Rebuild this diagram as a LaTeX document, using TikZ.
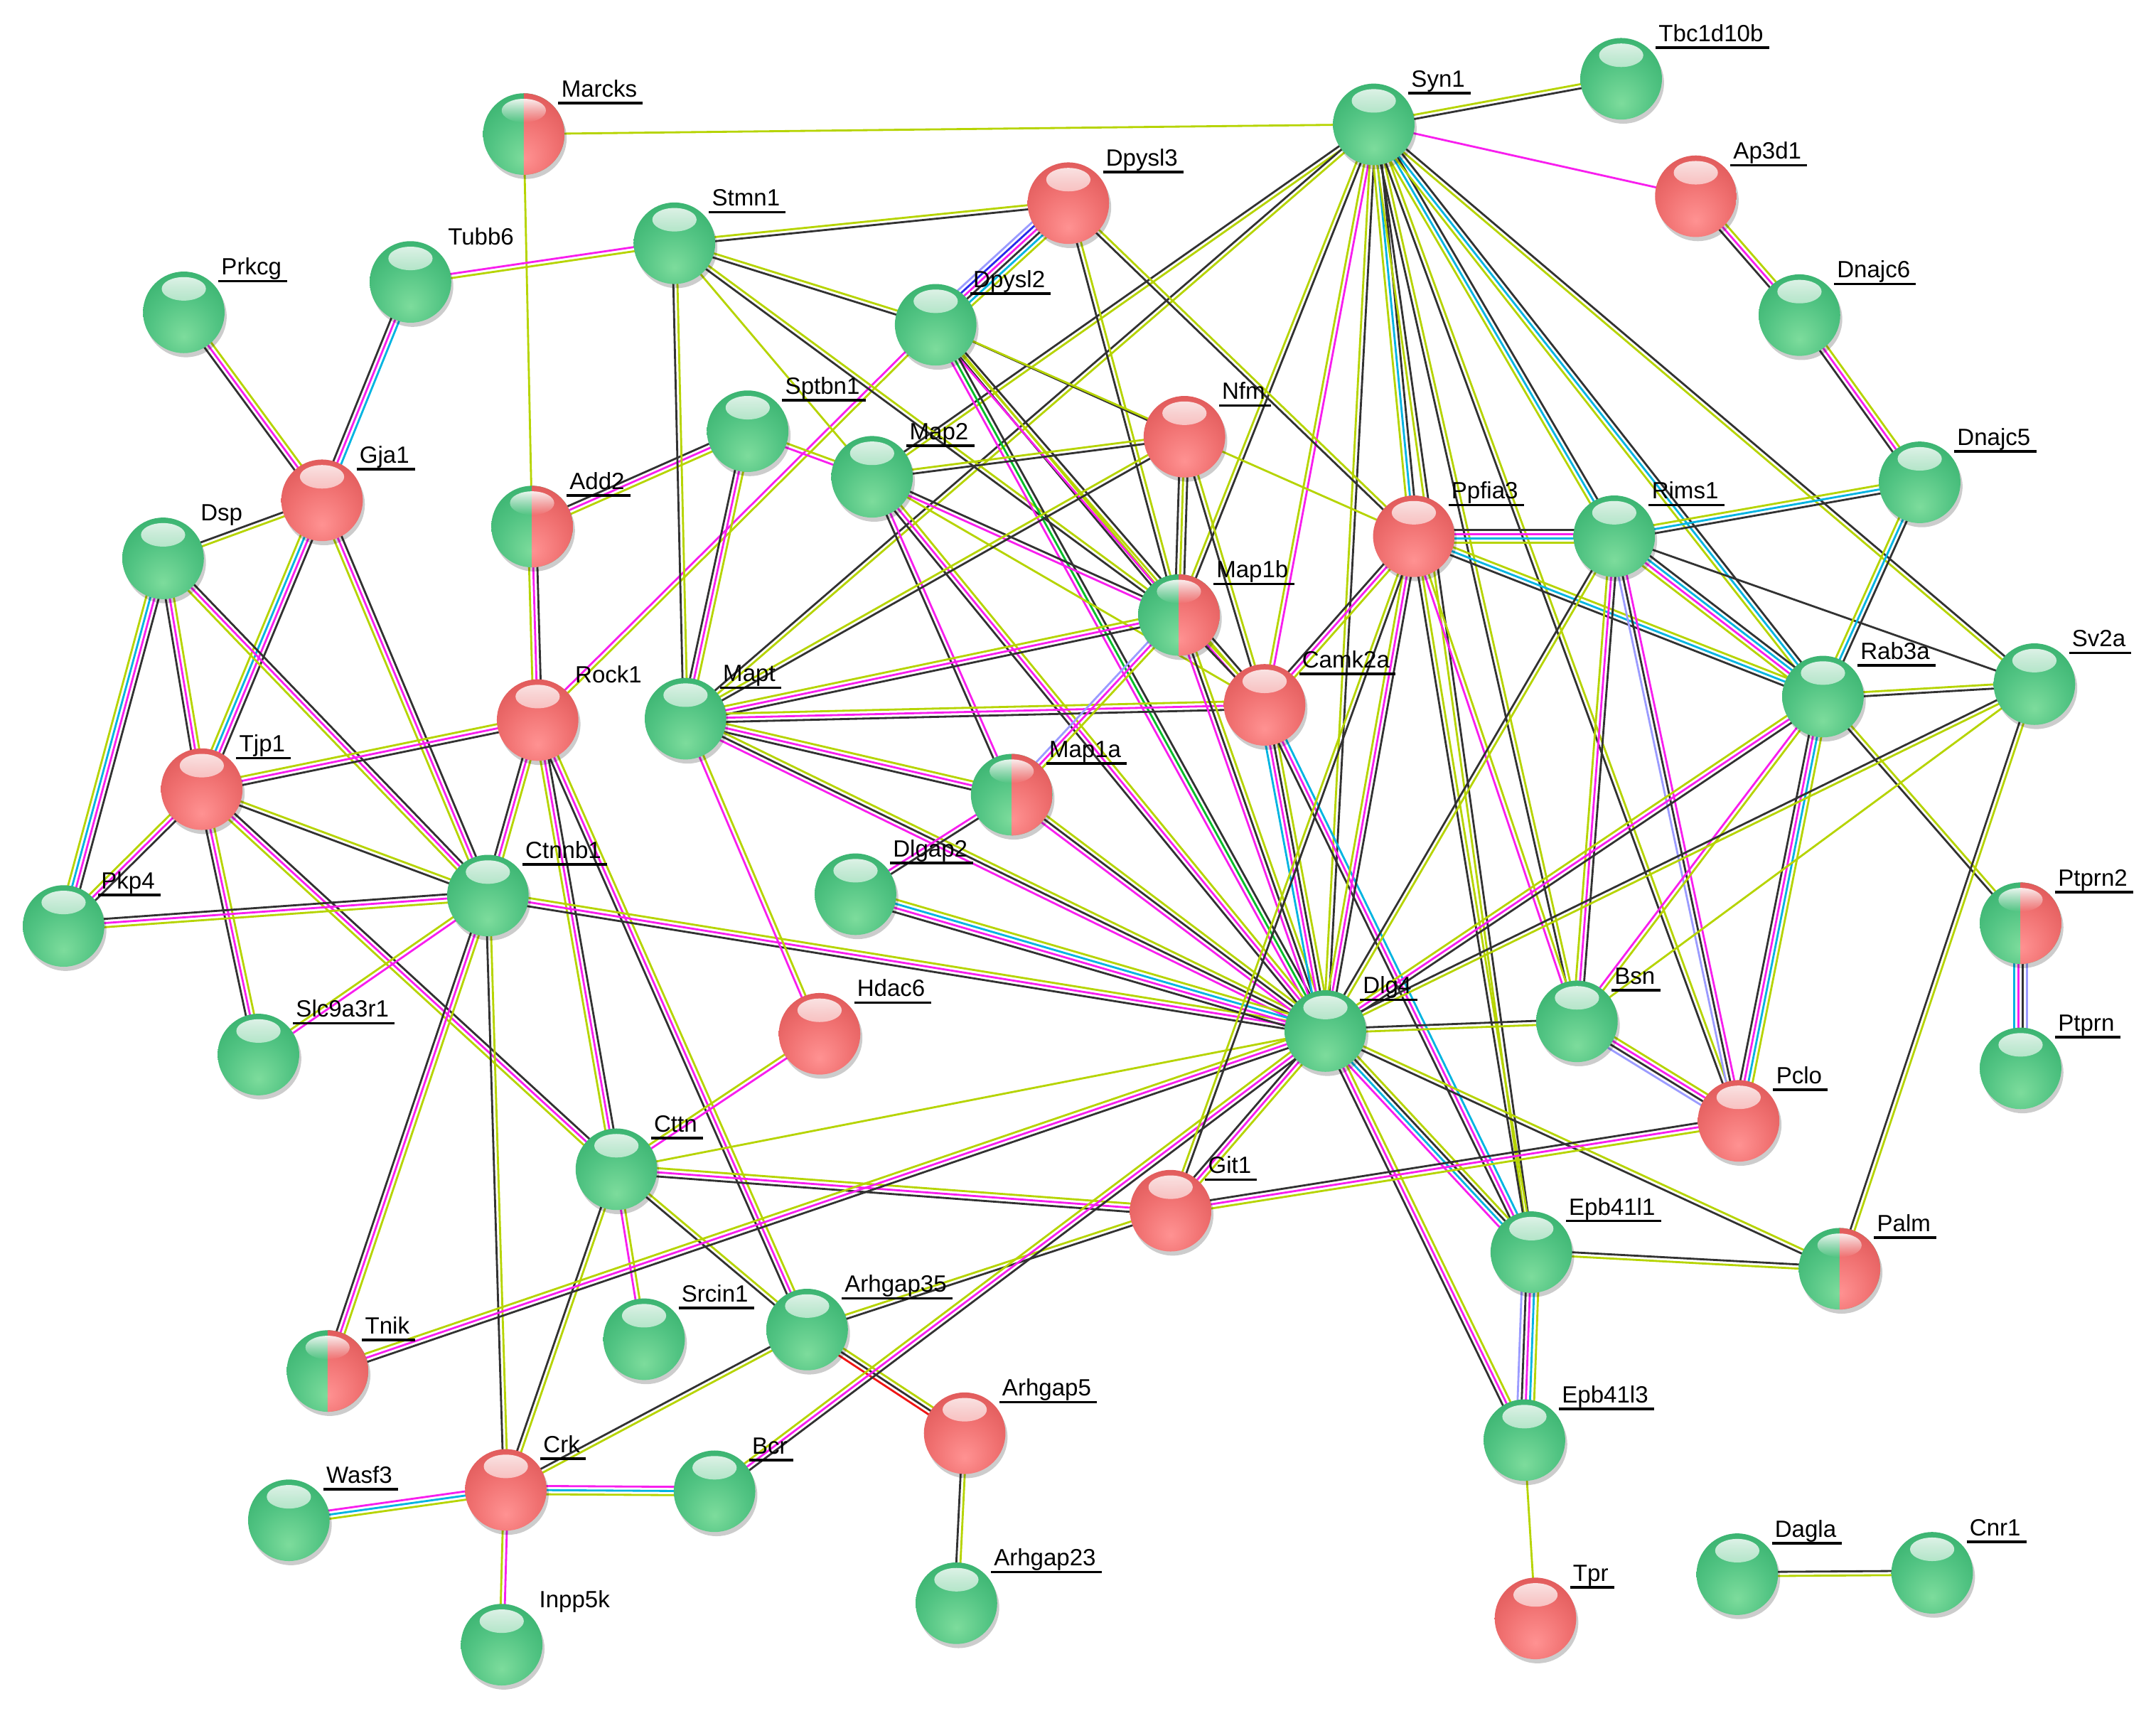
\documentclass[tikz,border=0pt]{standalone}
\usepackage{fontspec}
\setmainfont{Liberation Sans}
\usetikzlibrary{calc,backgrounds,fadings}
\definecolor{cY}{RGB}{182,212,0}
\definecolor{cK}{RGB}{50,50,50}
\definecolor{cM}{RGB}{248,30,238}
\definecolor{cC}{RGB}{0,180,225}
\definecolor{cL}{RGB}{155,155,255}
\definecolor{cB}{RGB}{40,40,235}
\definecolor{cG}{RGB}{0,190,40}
\definecolor{cR}{RGB}{240,20,20}
\definecolor{gA}{HTML}{7DDC9C}
\definecolor{gB}{HTML}{52C483}
\definecolor{gC}{HTML}{3AB370}
\definecolor{gD}{HTML}{2A9F5F}
\definecolor{gE}{HTML}{1C8A4C}
\definecolor{gF}{HTML}{127A3E}
\definecolor{rA}{HTML}{FF9292}
\definecolor{rB}{HTML}{F07070}
\definecolor{rC}{HTML}{E05A5A}
\definecolor{rD}{HTML}{CC4646}
\definecolor{rE}{HTML}{B63535}
\definecolor{rF}{HTML}{A02828}
\pgfdeclareradialshading{gball}{\pgfpoint{0bp}{-15bp}}{color(0bp)=(gA); color(20bp)=(gB); color(35bp)=(gC); color(45bp)=(gD); color(55bp)=(gE); color(65bp)=(gF); color(80bp)=(gF)}
\pgfdeclareradialshading{rball}{\pgfpoint{0bp}{-15bp}}{color(0bp)=(rA); color(20bp)=(rB); color(35bp)=(rC); color(45bp)=(rD); color(55bp)=(rE); color(65bp)=(rF); color(80bp)=(rF)}
\tikzfading[name=hlfade, top color=transparent!12, bottom color=transparent!100]
\newcommand\hlite{\fill[white, path fading=hlfade] ($(path picture bounding box.center)+(0pt,17pt)$) ellipse (16pt and 8.5pt);}
\tikzset{
  basenode/.style={circle, minimum size=59pt, inner sep=0pt, shade},
  gn/.style={basenode, shading=gball, path picture={\hlite}},
  rn/.style={basenode, shading=rball, path picture={\hlite}},
  hn/.style={basenode, shading=gball, path picture={%
     \begin{scope}\clip (path picture bounding box.north) rectangle (path picture bounding box.south east);
     \shade[shading=rball] (path picture bounding box.south west) rectangle (path picture bounding box.north east);\end{scope}\hlite}},
  shadowdisc/.style={fill=black, opacity=0.2},
  lab/.style={anchor=base west, inner sep=0pt, font=\fontsize{17}{20}\selectfont},
  ul/.style={draw=black, line width=1.8pt},
  eY/.style={draw=cY, line width=1.45pt},
  eK/.style={draw=cK, line width=1.45pt},
  eM/.style={draw=cM, line width=1.45pt},
  eC/.style={draw=cC, line width=1.45pt},
  eL/.style={draw=cL, line width=1.45pt},
  eB/.style={draw=cB, line width=1.45pt},
  eG/.style={draw=cG, line width=1.45pt},
  eR/.style={draw=cR, line width=1.45pt},
}
\newcommand\N[5]{%
  \fill[shadowdisc] ($(#3,#4)+(1.5pt,-3pt)$) circle (29.5pt);
  \node[#1] (#2) at (#3,#4) {};
  \node[lab] (t#2) at ($(#2.center)+(27pt,27pt)$) {#2};
  \ifnum#5=1 \draw[ul] ($(t#2.base west)+(-2pt,-4.5pt)$) -- ($(t#2.base east)+(4pt,-4.5pt)$);\fi
}
\newcommand\E[3]{%
  \foreach \cc [count=\nn] in {#3}{\global\let\ecount\nn}%
  \foreach \cc [count=\ii] in {#3}{%
    \pgfmathsetmacro\eoff{(\ii-(\ecount+1)/2)*3.0}%
    \draw[\cc] ($(#1.center)!\eoff pt!90:(#2.center)$) -- ($(#2.center)!\eoff pt!-90:(#1.center)$);%
  }%
}
\begin{document}
\begin{tikzpicture}[x=1pt,y=-1pt]
\useasboundingbox (0,0) rectangle (1560,1241.6);
\N{gn}{Syn1}{994}{90}{1}
\N{gn}{Tbc1d10b}{1173}{57}{1}
\N{rn}{Dpysl3}{773}{147}{1}
\N{rn}{Ap3d1}{1227}{142}{1}
\N{hn}{Marcks}{379}{97}{1}
\N{gn}{Stmn1}{488}{176}{1}
\N{gn}{Tubb6}{297}{204}{0}
\N{gn}{Prkcg}{133}{226}{1}
\N{gn}{Dpysl2}{677}{235}{1}
\N{gn}{Dnajc6}{1302}{228}{1}
\N{gn}{Sptbn1}{541}{312}{1}
\N{gn}{Map2}{631}{345}{1}
\N{rn}{Nfm}{857}{316}{1}
\N{rn}{Gja1}{233}{362}{1}
\N{hn}{Add2}{385}{381}{1}
\N{gn}{Dsp}{118}{404}{0}
\N{rn}{Ppfia3}{1023}{388}{1}
\N{gn}{Rims1}{1168}{388}{1}
\N{gn}{Dnajc5}{1389}{349}{1}
\N{hn}{Map1b}{853}{445}{1}
\N{rn}{Camk2a}{915}{510}{1}
\N{rn}{Rock1}{389}{521}{0}
\N{gn}{Mapt}{496}{520}{1}
\N{gn}{Rab3a}{1319}{504}{1}
\N{gn}{Sv2a}{1472}{495}{1}
\N{rn}{Tjp1}{146}{571}{1}
\N{hn}{Map1a}{732}{575}{1}
\N{gn}{Dlgap2}{619}{647}{1}
\N{gn}{Ctnnb1}{353}{648}{1}
\N{gn}{Pkp4}{46}{670}{1}
\N{hn}{Ptprn2}{1462}{668}{1}
\N{rn}{Hdac6}{593}{748}{1}
\N{gn}{Dlg4}{959}{746}{1}
\N{gn}{Bsn}{1141}{739}{1}
\N{gn}{Slc9a3r1}{187}{763}{1}
\N{gn}{Ptprn}{1462}{773}{1}
\N{rn}{Pclo}{1258}{811}{1}
\N{gn}{Cttn}{446}{846}{1}
\N{rn}{Git1}{847}{876}{1}
\N{gn}{Epb41l1}{1108}{906}{1}
\N{hn}{Palm}{1331}{918}{1}
\N{hn}{Tnik}{237}{992}{1}
\N{gn}{Srcin1}{466}{969}{1}
\N{gn}{Arhgap35}{584}{962}{1}
\N{rn}{Arhgap5}{698}{1037}{1}
\N{gn}{Epb41l3}{1103}{1042}{1}
\N{rn}{Crk}{366}{1078}{1}
\N{gn}{Bcr}{517}{1079}{1}
\N{gn}{Wasf3}{209}{1100}{1}
\N{gn}{Arhgap23}{692}{1160}{1}
\N{rn}{Tpr}{1111}{1171}{1}
\N{gn}{Dagla}{1257}{1139}{1}
\N{gn}{Cnr1}{1398}{1138}{1}
\N{gn}{Inpp5k}{363}{1190}{0}
\begin{pgfonlayer}{background}
\fill[white] (0,0) rectangle (1560,1241.6);
\E{Marcks}{Syn1}{eY}
\E{Marcks}{Add2}{eY}
\E{Syn1}{Tbc1d10b}{eK,eY}
\E{Syn1}{Ap3d1}{eM}
\E{Ap3d1}{Dnajc6}{eK,eM,eY}
\E{Dnajc6}{Dnajc5}{eK,eM,eY}
\E{Syn1}{Map2}{eK,eY}
\E{Syn1}{Mapt}{eK,eY}
\E{Syn1}{Map1b}{eY,eK}
\E{Syn1}{Camk2a}{eY,eM}
\E{Syn1}{Dlg4}{eY,eK}
\E{Syn1}{Ppfia3}{eY,eC,eK}
\E{Syn1}{Epb41l1}{eY,eK}
\E{Syn1}{Bsn}{eK,eY}
\E{Syn1}{Pclo}{eK,eY}
\E{Syn1}{Rims1}{eY,eC,eK}
\E{Syn1}{Rab3a}{eY,eC,eK}
\E{Syn1}{Sv2a}{eY,eK}
\E{Tubb6}{Stmn1}{eY,eM}
\E{Prkcg}{Gja1}{eK,eM,eY}
\E{Tubb6}{Gja1}{eK,eM,eC}
\E{Dsp}{Gja1}{eY,eK}
\E{Gja1}{Tjp1}{eY,eC,eM,eK}
\E{Gja1}{Ctnnb1}{eY,eM,eK}
\E{Dsp}{Pkp4}{eY,eC,eM,eK}
\E{Dsp}{Tjp1}{eK,eM,eY}
\E{Dsp}{Ctnnb1}{eY,eM,eK}
\E{Tjp1}{Pkp4}{eY,eM,eK}
\E{Tjp1}{Rock1}{eK,eM,eY}
\E{Tjp1}{Ctnnb1}{eK,eY}
\E{Tjp1}{Cttn}{eY,eM,eK}
\E{Tjp1}{Slc9a3r1}{eK,eM,eY}
\E{Pkp4}{Ctnnb1}{eY,eM,eK}
\E{Slc9a3r1}{Ctnnb1}{eM,eY}
\E{Add2}{Rock1}{eY,eM,eK}
\E{Add2}{Sptbn1}{eY,eM,eK}
\E{Rock1}{Dpysl2}{eY,eM}
\E{Rock1}{Ctnnb1}{eK,eM,eY}
\E{Rock1}{Cttn}{eY,eM,eK}
\E{Rock1}{Arhgap35}{eK,eM,eY}
\E{Ctnnb1}{Tnik}{eK,eM,eY}
\E{Ctnnb1}{Crk}{eK,eY}
\E{Ctnnb1}{Dlg4}{eK,eM,eY}
\E{Cttn}{Hdac6}{eM,eY}
\E{Cttn}{Dlg4}{eY}
\E{Cttn}{Git1}{eK,eM,eY}
\E{Cttn}{Srcin1}{eM,eY}
\E{Cttn}{Arhgap35}{eK,eY}
\E{Cttn}{Crk}{eK,eY}
\E{Arhgap35}{Crk}{eK,eY}
\E{Arhgap35}{Arhgap5}{eR,eK,eY}
\E{Arhgap35}{Git1}{eK,eY}
\E{Bcr}{Dlg4}{eK,eM,eY}
\E{Crk}{Bcr}{eY,eC,eM}
\E{Wasf3}{Crk}{eY,eC,eM}
\E{Crk}{Inpp5k}{eY,eM}
\E{Arhgap5}{Arhgap23}{eK,eY}
\E{Tnik}{Dlg4}{eK,eM,eY}
\E{Stmn1}{Dpysl3}{eK,eY}
\E{Stmn1}{Dpysl2}{eK,eY}
\E{Stmn1}{Mapt}{eK,eY}
\E{Stmn1}{Map1b}{eK,eY}
\E{Stmn1}{Map2}{eY}
\E{Dpysl3}{Dpysl2}{eL,eB,eM,eK,eC,eY}
\E{Dpysl3}{Map1b}{eK,eY}
\E{Dpysl3}{Ppfia3}{eK,eY}
\E{Dpysl2}{Nfm}{eK}
\E{Dpysl2}{Ppfia3}{eY}
\E{Dpysl2}{Map1b}{eK,eY}
\E{Dpysl2}{Camk2a}{eM,eY,eK}
\E{Dpysl2}{Dlg4}{eM,eG,eK}
\E{Sptbn1}{Map2}{eM,eY}
\E{Sptbn1}{Mapt}{eK,eM,eY}
\E{Map2}{Nfm}{eK,eY}
\E{Map2}{Map1b}{eM,eK}
\E{Map2}{Map1a}{eK,eM}
\E{Map2}{Dlg4}{eK,eM,eY}
\E{Map2}{Camk2a}{eY}
\E{Mapt}{Nfm}{eK,eY}
\E{Mapt}{Map1b}{eK,eM,eY}
\E{Mapt}{Camk2a}{eK,eM,eY}
\E{Mapt}{Map1a}{eK,eM,eY}
\E{Mapt}{Dlg4}{eM,eK,eY}
\E{Mapt}{Hdac6}{eM,eY}
\E{Nfm}{Map1b}{eK,eY,eK}
\E{Nfm}{Camk2a}{eK,eY}
\E{Map1b}{Camk2a}{eK,eY}
\E{Map1b}{Map1a}{eL,eM,eY}
\E{Map1b}{Dlg4}{eM,eK,eY}
\E{Camk2a}{Ppfia3}{eY,eM,eK}
\E{Camk2a}{Dlg4}{eC,eM,eK,eY}
\E{Camk2a}{Epb41l1}{eK,eM,eC}
\E{Map1a}{Dlgap2}{eM,eK}
\E{Map1a}{Dlg4}{eM,eK,eY}
\E{Dlgap2}{Dlg4}{eK,eM,eC,eY}
\E{Ppfia3}{Rims1}{eY,eC,eM,eK}
\E{Ppfia3}{Rab3a}{eK,eC,eY}
\E{Ppfia3}{Dlg4}{eY,eM,eK}
\E{Ppfia3}{Bsn}{eM,eY}
\E{Ppfia3}{Epb41l1}{eK,eY}
\E{Ppfia3}{Git1}{eY,eK}
\E{Rims1}{Dnajc5}{eK,eC,eY}
\E{Rims1}{Rab3a}{eY,eM,eC,eK}
\E{Rims1}{Sv2a}{eK}
\E{Rims1}{Bsn}{eY,eM,eK}
\E{Rims1}{Pclo}{eL,eK,eM}
\E{Rims1}{Dlg4}{eK,eY}
\E{Dnajc5}{Rab3a}{eY,eC,eK}
\E{Rab3a}{Sv2a}{eK,eY}
\E{Rab3a}{Dlg4}{eY,eM,eK}
\E{Rab3a}{Bsn}{eM,eY}
\E{Rab3a}{Pclo}{eK,eM,eC,eY}
\E{Rab3a}{Ptprn2}{eK,eY}
\E{Sv2a}{Dlg4}{eK,eY}
\E{Sv2a}{Bsn}{eY}
\E{Sv2a}{Palm}{eK,eY}
\E{Dlg4}{Bsn}{eY,eK}
\E{Dlg4}{Epb41l1}{eM,eC,eK,eY}
\E{Dlg4}{Epb41l3}{eK,eM,eY}
\E{Dlg4}{Palm}{eK,eY}
\E{Dlg4}{Git1}{eK,eM,eY}
\E{Bsn}{Pclo}{eL,eK,eM,eY}
\E{Git1}{Pclo}{eY,eM,eK}
\E{Epb41l1}{Epb41l3}{eL,eK,eM,eC,eY}
\E{Epb41l1}{Palm}{eY,eK}
\E{Epb41l3}{Tpr}{eY}
\E{Ptprn2}{Ptprn}{eC,eM,eK,eL}
\E{Dagla}{Cnr1}{eY,eK}
\end{pgfonlayer}
\end{tikzpicture}
\end{document}
